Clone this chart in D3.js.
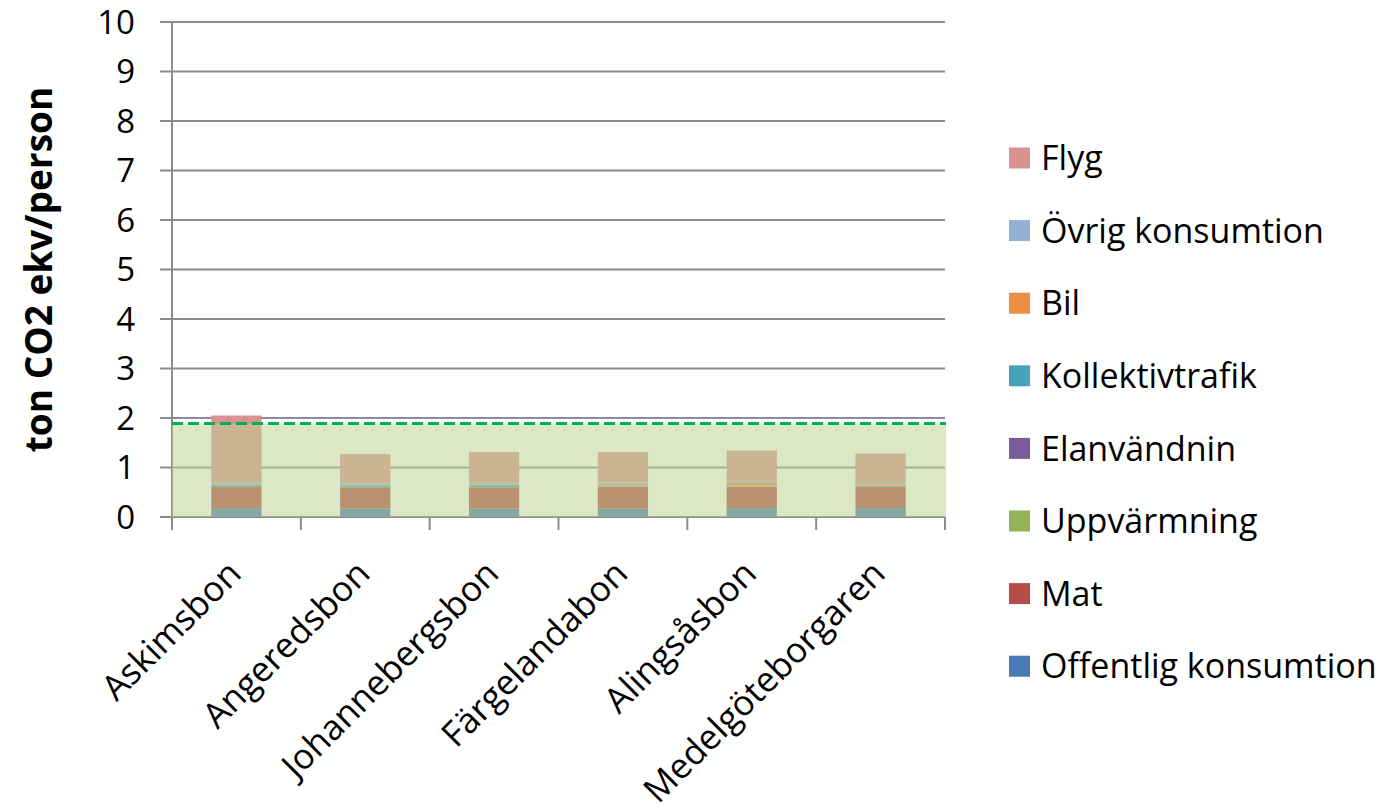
<!DOCTYPE html>
<html>
<head>
<meta charset="utf-8">
<script src="https://cdn.jsdelivr.net/npm/d3@7"></script>
<style>
  body { margin: 0; background: #fff; }
  text { font-family: "Open Sans", Lato, sans-serif; fill: #000; }
</style>
</head>
<body>
<svg id="chart" width="1393" height="812"></svg>
<script>
const width = 1393;
const height = 812;

// data (ton CO2 ekv / person)
const categories = ['Askimsbon', 'Angeredsbon', 'Johannebergsbon', 'Färgelandabon', 'Alingsåsbon', 'Medelgöteborgaren'];
const offentligKonsumtion = [0.18, 0.17, 0.17, 0.17, 0.18, 0.18];
const mat = [0.43, 0.43, 0.43, 0.44, 0.43, 0.43];
const uppvarmning = [0, 0, 0, 0, 0, 0];
const elanvandnin = [0, 0, 0, 0, 0, 0];
const kollektivtrafik = [0.04, 0.04, 0.05, 0.01, 0.01, 0.02];
const bil = [0.01, 0.00, 0.01, 0.03, 0.07, 0.03];
const ovrigKonsumtion = [0.04, 0.04, 0.04, 0.05, 0.04, 0.03];
const flyg = [1.35, 0.59, 0.61, 0.61, 0.61, 0.59];
const targetLevel = 1.88;
const yTicks = [0, 1, 2, 3, 4, 5, 6, 7, 8, 9, 10];

// bottom to top
const seriesNames = ['Offentlig konsumtion', 'Mat', 'Uppvärmning', 'Elanvändnin', 'Kollektivtrafik', 'Bil', 'Övrig konsumtion', 'Flyg'];
const seriesValues = [offentligKonsumtion, mat, uppvarmning, elanvandnin, kollektivtrafik, bil, ovrigKonsumtion, flyg];
const seriesColors = ['#4a7ab5', '#b84a47', '#93b157', '#7a5c9a', '#47a3bc', '#ee8d44', '#93afd3', '#d89391'];

const table = categories.map(function (c, i) {
    const row = { category: c };
    seriesNames.forEach(function (s, j) { row[s] = seriesValues[j][i]; });
    return row;
});
const stacked = d3.stack().keys(seriesNames)(table);

const plotLeft = 172, plotRight = 945, plotTop = 22, plotBottom = 517;

const x = d3.scaleBand()
    .domain(categories)
    .range([plotLeft, plotRight])
    .paddingInner(0.61)
    .paddingOuter(0.305);
const xBoundary = d3.scalePoint()
    .domain(d3.range(categories.length + 1))
    .range([plotLeft, plotRight]);
const y = d3.scaleLinear().domain([0, 10]).range([plotBottom, plotTop]);

const svg = d3.select('#chart');
const colorScale = d3.scaleOrdinal().domain(seriesNames).range(seriesColors);

// gridlines + y ticks
svg.append('g')
    .selectAll('line')
    .data(yTicks)
    .enter()
    .append('line')
    .attr('x1', plotLeft - 12)
    .attr('x2', plotRight)
    .attr('y1', d => y(d))
    .attr('y2', d => y(d))
    .attr('stroke', '#8c8c8c')
    .attr('stroke-width', 2);

svg.append('g')
    .selectAll('text')
    .data(yTicks)
    .enter()
    .append('text')
    .attr('x', 135)
    .attr('y', d => y(d))
    .attr('dy', '0.36em')
    .attr('text-anchor', 'end')
    .style('font-size', '33px')
    .text(d => d);

// axes lines
svg.append('line')
    .attr('x1', plotLeft).attr('x2', plotLeft)
    .attr('y1', plotTop).attr('y2', plotBottom)
    .attr('stroke', '#8c8c8c').attr('stroke-width', 2);

svg.append('g')
    .selectAll('line')
    .data(d3.range(categories.length + 1))
    .enter()
    .append('line')
    .attr('x1', d => xBoundary(d))
    .attr('x2', d => xBoundary(d))
    .attr('y1', plotBottom)
    .attr('y2', plotBottom + 13)
    .attr('stroke', '#8c8c8c')
    .attr('stroke-width', 2);

// stacked bars
svg.append('g')
    .selectAll('g')
    .data(stacked)
    .enter()
    .append('g')
    .attr('fill', d => colorScale(d.key))
    .selectAll('rect')
    .data(d => d)
    .enter()
    .append('rect')
    .attr('x', d => x(d.data.category))
    .attr('width', x.bandwidth())
    .attr('y', d => y(d[1]))
    .attr('height', d => y(d[0]) - y(d[1]));

// translucent target band over the bars
svg.append('rect')
    .attr('x', plotLeft)
    .attr('y', y(targetLevel))
    .attr('width', plotRight - plotLeft + 1)
    .attr('height', y(0) - y(targetLevel))
    .attr('fill', '#bdd191')
    .attr('fill-opacity', 0.53);

svg.append('line')
    .attr('x1', plotLeft)
    .attr('x2', plotRight + 1)
    .attr('y1', y(targetLevel) - 0.5)
    .attr('y2', y(targetLevel) - 0.5)
    .attr('stroke', '#00b050')
    .attr('stroke-width', 3)
    .attr('stroke-dasharray', '11,5');

// x labels
svg.append('g')
    .selectAll('text')
    .data(categories)
    .enter()
    .append('text')
    .attr('text-anchor', 'end')
    .attr('dy', '0.35em')
    .attr('transform', d => 'translate(' + (x(d) + x.bandwidth() / 2 - 2) + ',' + 567 + ') rotate(-45)')
    .style('font-size', '35px')
    .text(d => d);

// y title
svg.append('text')
    .attr('transform', 'translate(52,' + ((plotTop + plotBottom) / 2) + ') rotate(-90)')
    .attr('text-anchor', 'middle')
    .style('font-size', '37px')
    .style('font-weight', 'bold')
    .text('ton CO2 ekv/person');

//Draw legend (top series first)
const legendItems = seriesNames.slice().reverse();
const legendTop = 158;
const legendStep = 72.6;
const legendSquare = 21;

const legend = svg.append('g')
    .selectAll('g')
    .data(legendItems)
    .enter()
    .append('g')
    .attr('transform', (d, i) => 'translate(1009,' + (legendTop + i * legendStep) + ')');

legend.append('rect')
    .attr('x', 0)
    .attr('y', -legendSquare / 2)
    .attr('width', legendSquare)
    .attr('height', legendSquare)
    .attr('fill', d => colorScale(d));

legend.append('text')
    .attr('x', 32)
    .attr('y', 0)
    .attr('dy', '0.36em')
    .style('font-size', '34px')
    .text(d => d);
</script>
</body>
</html>
